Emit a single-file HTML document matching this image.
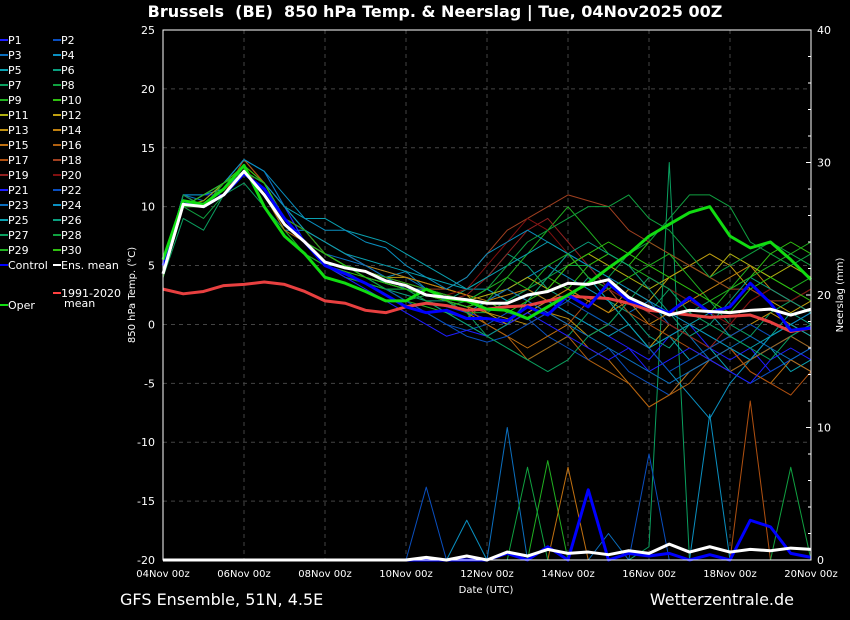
<!DOCTYPE html>
<html><head><meta charset="utf-8"><style>
html,body{margin:0;padding:0;background:#000;width:850px;height:620px;overflow:hidden}
svg{display:block;font-family:"DejaVu Sans","Liberation Sans",sans-serif}
</style></head><body>
<svg id="chart" width="850" height="620">
<text x="435" y="17" fill="#fff" font-size="16" font-weight="bold" text-anchor="middle" xml:space="preserve">Brussels  (BE)  850 hPa Temp. &amp; Neerslag | Tue, 04Nov2025 00Z</text>
<text x="120" y="605" fill="#fff" font-size="16">GFS Ensemble, 51N, 4.5E</text>
<text x="794" y="605" fill="#fff" font-size="16" text-anchor="end">Wetterzentrale.de</text>
<text x="486" y="593" fill="#fff" font-size="10" text-anchor="middle">Date (UTC)</text>
<text transform="translate(135,295) rotate(-90)" fill="#fff" font-size="10" text-anchor="middle">850 hPa Temp. (°C)</text>
<text transform="translate(843,295) rotate(-90)" fill="#fff" font-size="10" text-anchor="middle">Neerslag (mm)</text>
<g id="grid"></g><g id="precip"></g><g id="temps"></g><g id="axes"></g><g id="legend"></g>
</svg>
<script>
const dayLabels=["04Nov 00z","06Nov 00z","08Nov 00z","10Nov 00z","12Nov 00z","14Nov 00z","16Nov 00z","18Nov 00z","20Nov 00z"];
const tempTicks=[25,20,15,10,5,0,-5,-10,-15,-20];
const precipTicks=[0,10,20,30,40];
const ensMean=[4.3,10.2,10,11,13,11,8.5,7,5.3,4.8,4.5,3.7,3.3,2.5,2.3,2.1,1.8,1.8,2.5,2.8,3.5,3.4,3.8,2.3,1.5,0.8,1.2,1.1,1.0,1.2,1.3,0.8,1.3];
const oper=[5.5,10.5,10.2,11.5,13.5,10,7.5,6,4,3.5,2.8,2,2,3,2.2,2,1.3,1.2,0.5,1.5,2.5,3.5,4.8,6,7.5,8.5,9.5,10,7.5,6.5,7,5.5,3.8];
const control=[5,10.5,10,11,12.8,11.5,9,7,5,4.3,3.5,2.5,1.5,1,1.2,0.5,0.5,0.3,1.5,0.8,2.5,1.5,3.5,2.0,1.5,1.0,2.3,1.0,1.5,3.5,1.8,-0.5,-0.3];
const clim=[3,2.6,2.8,3.3,3.4,3.6,3.4,2.8,2.0,1.8,1.2,1.0,1.5,1.8,1.6,1.2,1.3,1.5,1.6,2.0,2.4,2.3,2.2,1.8,1.2,1.0,0.8,0.6,0.7,0.8,0.2,-0.6,-0.3];
const members=[
[5,10,11,11,13,12,9,7,6,5,4,3.5,3,2,1.5,1,0.5,0,1,2,1,0,-1,-2,-3,-1,0,-2,-3,-2,-4,-3,-2],
[4,11,10,12,14,12,10,7,5,4.5,3.5,3,2,1,0,-0.5,0,1,0.5,-1,-2,-3,-2,-4,-5,-6,-4,-3,-4,-5,-4,-3,-4],
[5,11,10.5,12,14,13,10,8,6,5.5,5,4.5,4,3,2.5,2,3,2,3,4,6,5,3,1,2,0,-1,-3,-2,-3,-2,-1,0],
[4,10,11,11.5,13,11,8,8,7,6,5,4,4.5,3,2,1,2,3,4,5,4,3,2,0,-2,-4,-6,-8,-5,-3,-2,-1,-2],
[5,11,10,12,13,12,10,9,9,8,7.5,7,6,5,4,3,3,2,3,2,1,0,-1,0,-2,-1,-3,-2,-4,-3,-2,-4,-3],
[5,10,11,12,13,12,9,7,5,5,4,3,2.5,2,2,3,4,6,5,3,2,4,2,1,-1,-2,0,-1,-2,-3,-1,1,0],
[4,9,8,11,12,10,8,6,5,4,3.5,3,3,2,1,0,-1,-2,-3,-2,-1,1,0,2,1,3,1,2,0,-1,1,2,3],
[5,10,9,11,13,11,9,7,6,5,4,3,2,2.5,2,1,1,2,3,4,5,5,4,6,7,9,11,11,10,7,6,5,6],
[5,10,11,12,13,11,8,6,5,4,3.5,3,2,1.5,1,0.5,2,4,6,8,10,8,6,5,4,3,2,1,3,5,4,3,4],
[5,11,10,11,13,12,9,7,5,4.5,4,3.5,3,2.5,2,1.5,2,3,2,4,3,5,6,5,7,6,5,4,3,4,6,7,6],
[4,10,10.5,12,13,12,9,7,6,5,4.5,4,3,3,2.5,2,2.5,3,4,3,5,6,5,4,3,4,5,4,6,5,4,5,4],
[5,10,10,11,13,12,9,7,6,5,4.5,4,4,3.5,3,2.5,1,0,1,2,3,2,1,3,2,4,5,6,5,3,2,1,2],
[5,11,10,12,13.5,12,9,8,6,5,4.5,4,3.5,3,2,1.5,1,0.5,0,1,0.5,-1,0,-1,-2,0,-1,-2,-1,0,1,0,-1],
[4,10,11,12,14,12,9,8,7,6,5,4.5,4,3.5,3,2.5,2,2.5,3,2,3,2,1,2,0,1,2,3,4,5,3,2,1],
[5,10,10,11,13,11,8,7,6,5,4,3.5,3,2.5,2,1,0,-1,-2,-1,0,-2,-3,-5,-7,-6,-4,-3,-2,-4,-5,-3,-4],
[5,11,10,12,13,11,9,7,6,5,4.5,4,3,3,2,1.5,0,-1,-3,-2,-1,-3,-4,-5,-7,-6,-5,-3,-4,-3,-2,-1,-2],
[4,10,10,11,14,12,9,7,6,5,4.5,3.5,3,2.5,2,1.5,2,3,2,1,0,2,3,1,0,-1,-2,-3,-2,-4,-5,-6,-4],
[5,11,10,12,13,12,9,8,6,5,4.5,4,3,3,3,4,6,8,9,10,11,10.5,10,8,7,6,5,4,3,3,2,2,3],
[5,10,11,12,13,12,10,8,6,5,4.5,4,3.5,3,2,2.5,4,6,8,9,7,5,3,2,1,0,-1,-2,0,2,3,2,1],
[5,10,10,11,13.5,11,9,8,6,5,4.5,4,3.5,3,2.5,3,5,7,9,8,6,4,3,2,4,3,2,1,0,2,3,2,3],
[5,11,10,11,13,12,10,7,5,4,3,2,1,0,-1,-0.5,-1,0,1,0,-1,-2,-3,-2,-4,-3,-2,-3,-4,-5,-3,-2,-3],
[4,10,11,12,13,11,9,7,6,5,4,3,2,1,0,-1,-1.5,-1,0,1,2,1,0,-1,-2,-4,-3,-2,-1,0,-1,0,1],
[5,11,11,12,14,13,10,8,7,6,5,4,3,3,2,1.5,2,3,2,1,0,-1,-2,-3,-4,-5,-4,-3,-2,-1,-2,-3,-2],
[5,11,11,12,14,13,11,9,8,8,7,6.5,5,4,3,4,6,7,8,7,6,5,4,3,2,1,0,-1,-2,-3,-1,0,1],
[5,10,10,11.5,13,12,10,8,7,6,5.5,5,4.5,4,3.5,3,4,5,6,7,6,4,2,0,-2,-1,0,1,-1,-2,-1,0,-1],
[4,10,11,12,13,12,9,7,6,5,4.5,3.5,3,2,1,0,-1,0,2,4,6,7,6,5,3,1,-1,0,2,4,3,2,1],
[5,10,10,11,13,12,9,7,6,5,4,3.5,3,2.5,2,1,-1,-2,-3,-4,-3,-1,0,2,4,3,1,0,-1,-2,-3,-1,0],
[5,11,10,12,13,12,9,7,5,5,4,3,3,2,1.5,2,3,5,7,8,9,10,10,11,9,8,6,4,5,6,7,6,5],
[5,10,10,12,13,12,9,8,6,5,4.5,4,3.5,3,2.5,2,3,4,3,5,6,4,3,4,5,6,4,2,3,4,5,6,7],
[4,10,11,12,13.5,12,9,7,6,5,4,3.5,3,2.5,2,1.5,2,1,2,3,5,6,7,6,5,4,3,2,1,3,4,3,2]];
const precipMean=[0,0,0,0,0,0,0,0,0,0,0,0,0,0.2,0,0.3,0,0.6,0.3,0.8,0.5,0.6,0.4,0.7,0.5,1.2,0.6,1.0,0.6,0.8,0.7,0.9,0.8];
const precipControl=[0,0,0,0,0,0,0,0,0,0,0,0,0,0,0,0,0,0.5,0,1,0,5.3,0,0.5,0.3,0.5,0,0.4,0,3,2.5,0.5,0.2];
const precipP2=[0,0,0,0,0,0,0,0,0,0,0,0,0,5.5,0,0,0,0,0,0,0,0,0,0,0,0,0,0,0,0,0,0,0];
const precipP3=[0,0,0,0,0,0,0,0,0,0,0,0,0,0,0,0,0,10,0,1,0,0,2,0,0,0,0,0,0,0,0,0,0];
const precipP7=[0,0,0,0,0,0,0,0,0,0,0,0,0,0,0,0,0,0,0,0,0,0,0,0,1,30,0,0,0,0,0,0,0];
const precipP9=[0,0,0,0,0,0,0,0,0,0,0,0,0,0,0,0,0,0,0,7.5,0,0,0,0,0,0,0,0,0,0,0,0,0];
const precipP15=[0,0,0,0,0,0,0,0,0,0,0,0,0,0,0,0,0,0,0,0,7,0,0,0,0,0,0,0,0,0,0,0,0];
const precipP17=[0,0,0,0,0,0,0,0,0,0,0,0,0,0,0,0,0,0,0,0,0,0,0,0,0,0,0,0,0,12,0,0,0];
const precipP22=[0,0,0,0,0,0,0,0,0,0,0,0,0,0,0,0,0,0,0,0,0,0,0,0,8,0,0,0,0,0,0,0,0];
const precipP24=[0,0,0,0,0,0,0,0,0,0,0,0,0,0,0,3,0,0,0,0,0,0,0,0,0,0,0,11,0,0,0,0,0];
const precipP28=[0,0,0,0,0,0,0,0,0,0,0,0,0,0,0,0,0,0,7,0,0,0,0,0,0,0,0,0,0,0,0,7,0];
const colors=["#1e1eff","#0a4fbf","#0b6fbf","#0a8fc0","#0aa0b0","#0a9f7f","#0a9f5f","#10a040","#20b020","#30c010","#b0b010","#c0a010","#c09010","#c08010","#c07010","#b06010","#b05010","#a04020","#902020","#801010"];
const X0=163,X1=811,Y0=30,Y1=560;
const xs=i=>X0+(X1-X0)*(i/2)/16;
const yT=v=>Y1-(v+20)/45*(Y1-Y0);
const yP=v=>Y1-v/40*(Y1-Y0);
const NS="http://www.w3.org/2000/svg";
function mk(tag,attrs,parent){const e=document.createElementNS(NS,tag);for(const k in attrs)e.setAttribute(k,attrs[k]);parent.appendChild(e);return e;}
const G=id=>document.getElementById(id);
dayLabels.forEach((l,k)=>{const x=X0+k*81;
 if(k>0&&k<8){const g=mk("line",{x1:x,x2:x,y1:Y0,y2:Y1,stroke:"#444","stroke-dasharray":"4,4"},G("grid"));}
 const t=mk("text",{x:x,y:577,fill:"#fff","font-size":10,"text-anchor":"middle"},G("axes"));t.textContent=l;
 
});
tempTicks.forEach(v=>{const y=yT(v);
 if(v<25&&v>-20){const g=mk("line",{x1:X0,x2:X1,y1:y,y2:y,stroke:"#444","stroke-dasharray":"4,4"},G("grid"));}
 const t=mk("text",{x:155,y:y+4,fill:"#fff","font-size":11,"text-anchor":"end"},G("axes"));t.textContent=v;
 
});
precipTicks.forEach(v=>{const y=yP(v);
 const t=mk("text",{x:817,y:y+4,fill:"#fff","font-size":11},G("axes"));t.textContent=v;
 
 mk("line",{x1:X1-5,x2:X1,y1:y,y2:y,stroke:"#fff"},G("axes"));
});
for(let m=2;m<40;m+=2){if(m%10)mk("line",{x1:X1-3,x2:X1,y1:yP(m),y2:yP(m),stroke:"#fff"},G("axes"));}
const frame=mk("rect",{x:X0,y:Y0,width:X1-X0,height:Y1-Y0,fill:"none",stroke:"#fff","stroke-width":1},G("axes"));

function line(arr,yf,color,w,parent,name){
 const p=mk("polyline",{points:arr.map((v,i)=>xs(i)+","+yf(v)).join(" "),fill:"none",stroke:color,"stroke-width":w,"stroke-linejoin":"round"},parent);
 
}
const precipSets=[[precipP2,1],[precipP3,2],[precipP7,6],[precipP9,8],[precipP15,14],[precipP17,16],[precipP22,21],[precipP24,23],[precipP28,27]];
precipSets.forEach(([a,mi])=>line(a,yP,colors[mi%20],1,G("precip"),"precip-member"));
line(precipControl,yP,"#0000ff",3,G("precip"),"precip-control");
line(precipMean,yP,"#ffffff",3,G("precip"),"precip-mean");
members.forEach((a,i)=>line(a,yT,colors[i%20],1,G("temps"),"temp-member-p"+(i+1)));
line(clim,yT,"#e84040",3,G("temps"),"temp-climatology");
line(control,yT,"#0000ff",3,G("temps"),"temp-control");
line(oper,yT,"#11dd11",3,G("temps"),"temp-oper");
line(ensMean,yT,"#ffffff",3,G("temps"),"temp-ens-mean");
const L=G("legend");
function leg(x,y,color,label,name){
 mk("line",{x1:x,x2:x+8,y1:y,y2:y,stroke:color,"stroke-width":2},L);
 const t=mk("text",{x:x+8,y:y+4,fill:"#fff","font-size":11},L);t.textContent=label;
 
}
for(let i=0;i<30;i++){const col=i%2,row=Math.floor(i/2);
 leg(col?53:0,40+row*15,colors[i%20],"P"+(i+1),"legend-p"+(i+1));}
leg(0,265,"#0000ff","Control","legend-control");
leg(53,265,"#ffffff","Ens. mean","legend-ens-mean");
leg(53,293,"#ff4040","1991-2020","legend-climatology");
const mt=mk("text",{x:64,y:307,fill:"#fff","font-size":11},L);mt.textContent="mean";
leg(0,305,"#11dd11","Oper","legend-oper");
</script>
</body></html>
